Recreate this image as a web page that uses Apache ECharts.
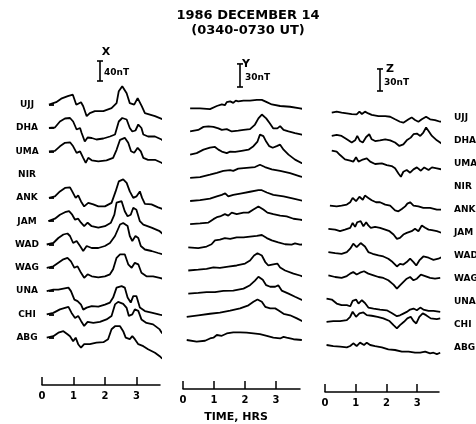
<!DOCTYPE html>
<html>
<head>
<meta charset="utf-8">
<script src="https://cdn.jsdelivr.net/npm/echarts@6/dist/echarts.min.js"></script>
<style>
  html, body { margin: 0; padding: 0; background: #fff; }
  #main { width: 476px; height: 424px; }
</style>
</head>
<body>
<div id="main"></div>
<script>
// stations, top to bottom
var stations = ['UJJ', 'DHA', 'UMA', 'NIR', 'ANK', 'JAM', 'WAD', 'WAG', 'UNA', 'CHI', 'ABG'];
var hourTicks = [0, 1, 2, 3];
var components = ['X', 'Y', 'Z'];
var scaleNT = [40, 30, 30];

// X component, [hours, nT] deviation from each station's base level
var xUJJ = [[0.22,0],[0.45,5],[0.61,12],[0.82,17],[0.98,20],[1.09,0],[1.24,5],[1.31,-3],[1.42,-23],[1.52,-17],[1.68,-13],[1.95,-13],[2.21,-7],[2.37,3],[2.44,27],[2.55,37],[2.69,23],[2.79,3],[2.93,0],[3.04,13],[3.17,-3],[3.27,-17],[3.59,-23],[3.9,-31]];
var xDHA = [[0.22,0],[0.41,1],[0.57,13],[0.73,19],[0.89,20],[0.99,13],[1.1,-3],[1.21,0],[1.26,-10],[1.36,-27],[1.45,-19],[1.58,-20],[1.73,-23],[1.95,-21],[2.16,-17],[2.32,-13],[2.44,13],[2.55,20],[2.69,17],[2.79,0],[2.87,-7],[2.97,-5],[3.06,7],[3.16,0],[3.22,-13],[3.37,-17],[3.59,-17],[3.8,-23],[3.9,-30]];
var xUMA = [[0.22,0],[0.41,1],[0.57,10],[0.73,17],[0.89,18],[0.99,10],[1.1,-3],[1.21,0],[1.31,-13],[1.39,-23],[1.47,-13],[1.58,-18],[1.79,-20],[2.05,-18],[2.26,-13],[2.37,3],[2.48,23],[2.63,27],[2.74,17],[2.83,0],[2.93,-3],[3.04,7],[3.14,0],[3.22,-13],[3.37,-17],[3.59,-17],[3.8,-23],[3.88,-25]];
var xANK = [[0.22,0],[0.41,3],[0.57,13],[0.73,20],[0.89,21],[0.96,13],[1.07,0],[1.15,5],[1.24,-7],[1.34,-17],[1.47,-10],[1.63,-13],[1.79,-17],[2.0,-17],[2.21,-10],[2.34,13],[2.44,33],[2.58,37],[2.69,30],[2.79,13],[2.9,0],[3.0,3],[3.11,13],[3.18,0],[3.27,-12],[3.48,-13],[3.69,-19],[3.88,-23]];
var xJAM = [[0.2,0],[0.41,5],[0.57,13],[0.73,18],[0.86,20],[0.96,13],[1.05,3],[1.15,5],[1.24,-3],[1.34,-10],[1.45,-3],[1.58,-10],[1.79,-13],[2.0,-10],[2.19,-3],[2.3,13],[2.37,37],[2.53,40],[2.63,20],[2.72,10],[2.82,13],[2.9,27],[3.0,23],[3.11,0],[3.22,-7],[3.48,-13],[3.74,-20],[3.85,-26]];
var xWAD = [[0.15,0],[0.36,3],[0.52,13],[0.68,20],[0.81,22],[0.89,17],[0.99,3],[1.1,7],[1.21,-3],[1.31,-13],[1.42,-3],[1.58,-7],[1.79,-7],[2.0,-3],[2.16,3],[2.32,17],[2.48,40],[2.58,43],[2.72,37],[2.79,17],[2.87,7],[2.97,17],[3.06,13],[3.14,-3],[3.27,-10],[3.48,-13],[3.69,-17],[3.85,-20]];
var xWAG = [[0.15,0],[0.36,3],[0.52,10],[0.68,17],[0.81,20],[0.92,13],[1.03,0],[1.13,3],[1.24,-10],[1.34,-20],[1.45,-13],[1.58,-17],[1.79,-19],[2.0,-17],[2.16,-13],[2.26,-3],[2.37,20],[2.48,27],[2.63,27],[2.74,7],[2.85,0],[2.95,10],[3.06,7],[3.16,-10],[3.32,-17],[3.53,-17],[3.74,-20],[3.85,-22]];
var xUNA = [[0.15,0],[0.36,3],[0.52,3],[0.68,5],[0.84,7],[0.92,0],[1.03,-17],[1.13,-20],[1.24,-27],[1.31,-37],[1.42,-33],[1.58,-30],[1.79,-31],[2.0,-27],[2.16,-23],[2.26,-13],[2.37,7],[2.53,10],[2.63,7],[2.72,-13],[2.82,-23],[2.9,-10],[3.0,-10],[3.11,-33],[3.27,-40],[3.48,-43],[3.74,-47],[3.82,-48]];
var xCHI = [[0.15,0],[0.36,3],[0.57,10],[0.73,13],[0.84,15],[0.94,3],[1.05,-7],[1.15,-3],[1.24,-13],[1.34,-23],[1.45,-15],[1.63,-17],[1.84,-15],[2.05,-10],[2.21,-3],[2.32,20],[2.42,25],[2.58,21],[2.69,13],[2.76,-3],[2.87,0],[2.95,10],[3.06,7],[3.16,-10],[3.32,-17],[3.53,-20],[3.74,-30],[3.82,-38]];
var xABG = [[0.15,0],[0.36,3],[0.52,10],[0.68,13],[0.81,7],[0.89,3],[0.99,-7],[1.07,0],[1.15,-13],[1.24,-20],[1.34,-13],[1.52,-13],[1.73,-10],[1.95,-9],[2.1,-3],[2.21,17],[2.32,23],[2.48,23],[2.58,13],[2.66,0],[2.79,-3],[2.87,3],[2.95,-3],[3.06,-13],[3.22,-17],[3.37,-23],[3.59,-30],[3.74,-37],[3.82,-42]];

// Y component
var yUJJ = [[0.23,0],[0.55,0],[0.87,-1],[1.09,3],[1.25,5],[1.35,4],[1.41,8],[1.52,9],[1.62,7],[1.7,10],[1.78,9],[1.95,10],[2.16,10],[2.38,11],[2.54,11],[2.7,8],[2.86,5],[3.13,3],[3.45,2],[3.77,0],[3.97,-2]];
var yDHA = [[0.23,0],[0.49,2],[0.66,6],[0.82,6.5],[0.98,6],[1.14,4],[1.25,2],[1.41,3],[1.57,0],[1.78,1],[1.95,2],[2.16,3],[2.32,9],[2.43,17],[2.54,22],[2.68,17],[2.79,11],[2.91,4],[3.04,4],[3.13,7],[3.24,2],[3.4,0],[3.61,-2],[3.83,-4],[3.97,-7]];
var yUMA = [[0.23,0],[0.44,2],[0.66,6.5],[0.87,9],[1.03,10],[1.14,6.5],[1.25,4],[1.41,2],[1.52,4],[1.68,3.5],[1.89,5],[2.11,6.5],[2.27,11],[2.4,17],[2.48,26],[2.59,24],[2.68,17],[2.78,11],[2.89,9],[3.02,11],[3.13,13],[3.24,6.5],[3.4,0],[3.61,-6.5],[3.83,-11],[3.99,-13]];
var yNIR = [[0.23,0],[0.55,1],[0.87,4],[1.09,6.5],[1.3,9],[1.52,10],[1.62,9],[1.78,12],[2.05,13],[2.32,14],[2.48,17],[2.64,14],[2.86,11],[3.13,9],[3.45,6],[3.77,2],[3.93,0]];
var yANK = [[0.23,0],[0.55,1],[0.87,3],[1.09,6],[1.25,8],[1.36,10],[1.46,6],[1.62,8],[1.89,10],[2.16,12],[2.43,14],[2.54,14],[2.7,11],[2.91,8],[3.24,6],[3.56,3],[3.88,0]];
var yJAM = [[0.23,0],[0.55,1],[0.82,2],[0.98,6.5],[1.09,9],[1.19,10],[1.35,13],[1.46,11],[1.57,15],[1.73,13],[1.95,15],[2.11,15],[2.27,19],[2.43,23],[2.59,19],[2.72,15],[2.91,13],[3.13,11],[3.34,10],[3.56,7],[3.77,6],[3.97,4]];
var yWAD = [[0.17,0],[0.49,-1],[0.76,1],[0.92,4],[1.03,9],[1.19,10],[1.35,12],[1.52,11],[1.73,13],[1.95,13],[2.16,14],[2.38,15],[2.54,16],[2.7,12],[2.86,9],[3.07,6.5],[3.29,4],[3.5,3.5],[3.61,5],[3.77,3.5],[3.93,4]];
var yWAG = [[0.17,0],[0.49,1],[0.76,2],[0.98,4],[1.19,3.5],[1.46,5],[1.73,6.5],[2.0,9],[2.16,13],[2.29,19.5],[2.4,22.5],[2.54,19.5],[2.65,11],[2.75,6.5],[2.91,8],[3.04,9],[3.13,4],[3.29,0],[3.56,-4],[3.77,-6.5],[3.93,-9]];
var yUNA = [[0.17,0],[0.49,1],[0.76,2],[1.03,2],[1.3,3.5],[1.62,4],[1.95,6.5],[2.16,11],[2.32,17],[2.43,22],[2.57,18],[2.68,11],[2.81,9],[2.97,9],[3.07,11],[3.18,4],[3.4,0],[3.61,-4],[3.83,-8],[3.93,-9.5]];
var yCHI = [[0.12,0],[0.49,2],[0.87,4],[1.19,5.5],[1.52,8],[1.84,11],[2.11,15],[2.27,19.5],[2.4,22.5],[2.54,19.5],[2.65,13],[2.81,11],[2.97,11],[3.07,8.5],[3.24,4],[3.45,2],[3.67,-2],[3.88,-6.5]];
var yABG = [[0.12,0],[0.44,-2],[0.71,-1],[0.87,2],[0.98,3],[1.09,6.5],[1.25,5.5],[1.41,8.5],[1.62,10],[1.84,10],[2.05,9.5],[2.27,8.5],[2.48,7.5],[2.7,5.5],[2.91,3],[3.13,2],[3.24,4],[3.34,3],[3.56,1],[3.83,0]];

// Z component
var zUJJ = [[0.22,0],[0.38,1.4],[0.54,0],[0.71,-1],[0.87,-2],[1.03,-2.3],[1.12,1.4],[1.2,-1.8],[1.3,1.4],[1.41,-1],[1.52,-3],[1.74,-4.6],[1.96,-4.6],[2.12,-5.5],[2.28,-9],[2.44,-12.3],[2.55,-13.6],[2.72,-9],[2.82,-6.4],[2.93,-10],[3.04,-12.3],[3.15,-9],[3.29,-5.5],[3.42,-9],[3.58,-10],[3.75,-12.3],[3.86,-11],[3.93,-12.3]];
var zDHA = [[0.22,0],[0.38,1.4],[0.54,0],[0.71,-4.6],[0.87,-9],[0.98,-6],[1.05,0],[1.14,-7],[1.23,-9],[1.34,-1.4],[1.44,2.3],[1.52,-4.6],[1.63,-7],[1.79,-6],[1.96,-4.6],[2.12,-6],[2.28,-9],[2.42,-13.6],[2.55,-11.4],[2.66,-6],[2.79,-2.3],[2.88,2.3],[2.99,3.2],[3.1,0],[3.2,4.6],[3.29,11.4],[3.37,6.8],[3.48,0],[3.64,-6],[3.8,-10.5],[3.91,-12.3]];
var zUMA = [[0.22,11.6],[0.38,10.2],[0.49,5.6],[0.65,-0.4],[0.82,-2],[0.92,-3.4],[1.01,2.6],[1.09,-3.4],[1.2,-1.1],[1.36,1.1],[1.47,-3.4],[1.63,-6.6],[1.85,-5.7],[2.01,-8],[2.17,-9.4],[2.28,-12.4],[2.39,-19.4],[2.47,-23.9],[2.55,-17.1],[2.66,-14.8],[2.77,-18.4],[2.88,-13.9],[2.99,-11.2],[3.12,-15.7],[3.23,-11.2],[3.37,-14.8],[3.48,-11.2],[3.64,-12.4],[3.8,-13.9],[3.91,-17.1]];
var zANK = [[0.16,0],[0.38,-1],[0.54,0],[0.71,1.4],[0.82,4.6],[0.9,10.5],[1.01,6],[1.12,12],[1.23,8],[1.3,13.6],[1.41,10.5],[1.52,7.3],[1.66,4.6],[1.79,4.6],[1.96,1.4],[2.12,0],[2.28,-6.4],[2.39,-7.7],[2.5,-4.6],[2.61,-1],[2.68,2.7],[2.77,4.6],[2.88,0],[3.04,-1],[3.2,-3.2],[3.42,-3.2],[3.64,-5.5],[3.86,-5.5]];
var zJAM = [[0.11,0],[0.33,-1],[0.49,-3],[0.65,-1],[0.82,1.4],[0.9,8],[0.98,2.7],[1.05,9],[1.16,10.5],[1.25,3.6],[1.34,9],[1.41,4.6],[1.49,1.4],[1.63,2.7],[1.79,1.4],[1.96,-1],[2.1,-3.2],[2.23,-7.7],[2.34,-13.6],[2.44,-12.3],[2.55,-7.7],[2.66,-5.5],[2.82,-3.2],[2.93,0],[3.04,-3.2],[3.15,4.6],[3.26,1.4],[3.37,-1],[3.48,-1.8],[3.64,-3.2],[3.8,-5.5]];
var zWAD = [[0.11,0],[0.33,-1.4],[0.54,-2.3],[0.71,0],[0.82,4.6],[0.92,11.4],[1.03,6.8],[1.16,12.3],[1.3,7.7],[1.41,0],[1.55,-2.3],[1.74,-4.6],[1.9,-6],[2.06,-9],[2.2,-13.6],[2.34,-19.6],[2.44,-16],[2.55,-17],[2.66,-13.6],[2.77,-9],[2.88,-13.6],[2.97,-18.2],[3.07,-11.4],[3.2,-6],[3.37,-7.7],[3.53,-10.5],[3.69,-9],[3.8,-6.8]];
var zWAG = [[0.11,0],[0.33,-2.3],[0.54,-3.6],[0.71,-1],[0.82,2.3],[0.92,4.6],[1.03,1],[1.14,3.6],[1.27,5.5],[1.41,2.3],[1.58,0],[1.74,-2.3],[1.9,-3.6],[2.06,-6.8],[2.23,-12.7],[2.34,-18.2],[2.44,-13.6],[2.57,-8.2],[2.66,-4.6],[2.77,-2.3],[2.88,-6.8],[2.99,-4.6],[3.12,1],[3.26,-1],[3.42,-3.6],[3.58,-4.6],[3.75,-3.6]];
var zUNA = [[0.05,0],[0.22,-1.4],[0.38,-6.8],[0.54,-9],[0.71,-9],[0.82,-10.5],[0.9,-3.2],[1.01,-1.4],[1.09,-6.8],[1.2,-2.3],[1.3,-6],[1.41,-12.3],[1.58,-13.6],[1.79,-15],[2.01,-16],[2.17,-19.6],[2.34,-24],[2.44,-22.8],[2.55,-20.5],[2.66,-18.2],[2.77,-15],[2.88,-13.6],[2.99,-15.9],[3.1,-12.3],[3.2,-15],[3.37,-16.8],[3.53,-16.8],[3.75,-18.2]];
var zCHI = [[0.05,0],[0.27,1],[0.49,1],[0.71,2.3],[0.82,6.8],[0.9,13.6],[1.01,6.8],[1.12,11.4],[1.25,12.7],[1.36,9],[1.52,8.2],[1.71,6.8],[1.9,4.6],[2.1,1],[2.23,-4.6],[2.34,-9],[2.44,-4.6],[2.57,0],[2.68,4.6],[2.79,6.8],[2.88,1],[2.97,-2.3],[3.07,6.8],[3.18,11.4],[3.29,9],[3.44,4.6],[3.64,3.6],[3.75,4.6]];
var zABG = [[0.05,0],[0.27,-1.4],[0.49,-2.3],[0.71,-3.2],[0.82,-1.4],[0.92,2.3],[1.03,-1.4],[1.14,3.2],[1.27,0],[1.36,3.2],[1.47,0],[1.63,-1.4],[1.85,-3.2],[2.06,-6],[2.28,-6.8],[2.5,-9],[2.72,-9],[2.93,-10.5],[3.1,-10.5],[3.26,-9],[3.42,-11.4],[3.53,-10.5],[3.64,-12.3],[3.75,-10.5]];

var xTraces = [xUJJ, xDHA, xUMA, null, xANK, xJAM, xWAD, xWAG, xUNA, xCHI, xABG];
var yTraces = [yUJJ, yDHA, yUMA, yNIR, yANK, yJAM, yWAD, yWAG, yUNA, yCHI, yABG];
var zTraces = [zUJJ, zDHA, zUMA, null, zANK, zJAM, zWAD, zWAG, zUNA, zCHI, zABG];
var traces = [xTraces, yTraces, zTraces];

// ---- layout (pixels) ----
var FONT = 'DejaVu Sans';
var TOP = 80;
var panels = [
    {left: 42, right: 160, axisY: 385, firstY: 104.7, gap: 23.3, perPx: 2.0, tMax: 3.75,
     barX: 100, barBottom: 81, letter: [106, 52], unit: [104, 72.5]},
    {left: 183, right: 300, axisY: 389, firstY: 108.3, gap: 23.17, perPx: 1.3, tMax: 3.77,
     barX: 240, barBottom: 87, letter: [246, 64], unit: [245, 78]},
    {left: 325, right: 439, axisY: 392, firstY: 112.7, gap: 23.23, perPx: 1.36, tMax: 3.71,
     barX: 380, barBottom: 91, letter: [390, 69], unit: [384, 83]}
];

var grids = [], xAxes = [], yAxes = [], series = [];

panels.forEach(function (p, k) {
    var yMax = (p.firstY - TOP) * p.perPx;
    grids.push({left: p.left, top: TOP, width: p.right - p.left, height: p.axisY - TOP, outerBoundsMode: 'none'});
    xAxes.push({
        gridIndex: k, type: 'value', min: 0, max: p.tMax, position: 'bottom',
        splitLine: {show: false},
        axisLine: {onZero: false, lineStyle: {color: '#000', width: 1.5}},
        axisTick: {inside: true, length: 8, customValues: hourTicks, lineStyle: {color: '#000', width: 1.5}},
        axisLabel: {customValues: hourTicks, margin: 6, color: '#000', fontFamily: FONT, fontWeight: 'bold', fontSize: 10}
    });
    yAxes.push({gridIndex: k, type: 'value', show: false, min: yMax - (p.axisY - TOP) * p.perPx, max: yMax});
    traces[k].forEach(function (tr, i) {
        if (!tr) return;
        var off = -i * p.gap * p.perPx;
        series.push({
            type: 'line', name: components[k] + ' ' + stations[i],
            xAxisIndex: k, yAxisIndex: k,
            data: tr.map(function (d) { return [d[0], d[1] + off]; }),
            symbol: 'none', clip: false, silent: true,
            lineStyle: {color: '#000', width: 1.8}
        });
    });
});

// station names: left of X, right of Z
var labelStyle = {interval: 0, color: '#000', fontFamily: FONT, fontWeight: 'bold', fontSize: 9};
grids.push({left: 49, top: 104.7 - 11.65, width: 10, height: 23.3 * 11, outerBoundsMode: 'none'});
xAxes.push({gridIndex: 3, type: 'value', show: false});
yAxes.push({
    gridIndex: 3, type: 'category', data: stations, inverse: true, position: 'left',
    axisLine: {show: false},
    axisTick: {show: true, inside: true, length: 5, alignWithLabel: true,
        interval: function (i) { return xTraces[i] !== null; },
        lineStyle: {color: '#000', width: 1.8}},
    axisLabel: Object.assign({margin: 22, align: 'center'}, labelStyle)
});
grids.push({left: 440, top: 118 - 11.5, width: 10, height: 23 * 11, outerBoundsMode: 'none'});
xAxes.push({gridIndex: 4, type: 'value', show: false});
yAxes.push({
    gridIndex: 4, type: 'category', data: stations, inverse: true, position: 'right',
    axisLine: {show: false}, axisTick: {show: false},
    axisLabel: Object.assign({margin: 4, align: 'left'}, labelStyle)
});

// titles, component letters and nT scale bars
var graphic = [
    {type: 'text', x: 248, y: 16, style: {text: '1986 DECEMBER 14', font: 'bold 13px ' + FONT, fill: '#000', align: 'center', verticalAlign: 'middle'}},
    {type: 'text', x: 248, y: 31, style: {text: '(0340-0730 UT)', font: 'bold 13px ' + FONT, fill: '#000', align: 'center', verticalAlign: 'middle'}},
    {type: 'text', x: 236, y: 417, style: {text: 'TIME, HRS', font: 'bold 11px ' + FONT, fill: '#000', align: 'center', verticalAlign: 'middle'}}
];
panels.forEach(function (p, k) {
    var len = scaleNT[k] / p.perPx;
    var b = p.barBottom, t = b - len, x = p.barX;
    var ls = {stroke: '#000', lineWidth: 1.6};
    graphic.push(
        {type: 'line', shape: {x1: x, y1: b, x2: x, y2: t}, style: ls},
        {type: 'line', shape: {x1: x - 3, y1: b, x2: x + 3, y2: b}, style: ls},
        {type: 'line', shape: {x1: x - 3, y1: t, x2: x + 3, y2: t}, style: ls},
        {type: 'text', x: p.letter[0], y: p.letter[1], style: {text: components[k], font: 'bold 11px ' + FONT, fill: '#000', align: 'center', verticalAlign: 'middle'}},
        {type: 'text', x: p.unit[0], y: p.unit[1], style: {text: scaleNT[k] + 'nT', font: 'bold 9px ' + FONT, fill: '#000', align: 'left', verticalAlign: 'middle'}}
    );
});

var chart = echarts.init(document.getElementById('main'));
chart.setOption({
    animation: false,
    backgroundColor: '#fff',
    grid: grids,
    xAxis: xAxes,
    yAxis: yAxes,
    series: series,
    graphic: graphic
});
</script>
</body>
</html>
